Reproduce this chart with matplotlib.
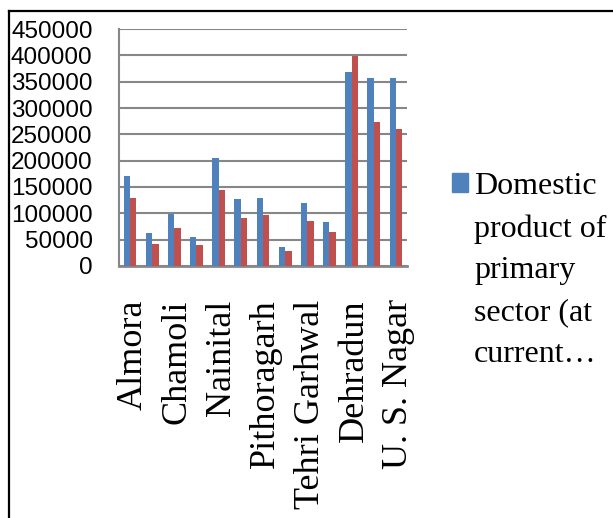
import numpy as np
import matplotlib.pyplot as plt
import matplotlib.transforms as mtransforms
from matplotlib.lines import Line2D
from matplotlib.patches import Rectangle

districts = [
    "Almora", "Bageshwar", "Chamoli", "Champawat", "Nainital",
    "Pauri Garhwal", "Pithoragarh", "Rudraprayag", "Tehri Garhwal",
    "Uttarkashi", "Dehradun", "Haridwar", "U. S. Nagar",
]
current_prices = [171000, 62000, 98000, 56000, 206000, 128000, 130000,
                  37000, 119000, 84000, 369000, 357000, 357000]
constant_prices = [130000, 42000, 72000, 39000, 145000, 92000, 96000,
                   28000, 85000, 64000, 399000, 274000, 261000]
yticks = np.arange(0, 450001, 50000)

blue = "#4F81BD"
red = "#C0504D"
grid_grey = "#878787"

fig = plt.figure(figsize=(6.13, 5.18), dpi=100)
ax = fig.add_axes([0.194, 0.4865, 0.470, 0.4575])

x = np.arange(len(districts))
w = 0.29
ax.bar(x - w / 2, current_prices, w, color=blue, zorder=3)
ax.bar(x + w / 2, constant_prices, w, color=red, zorder=3)

ax.set_xlim(-0.5, len(districts) - 0.5)
ax.set_ylim(0, 450000)
ax.set_yticks(yticks)
ax.set_yticklabels([str(v) for v in yticks],
                   family="Liberation Sans", fontsize=17.5)
ax.tick_params(axis="y", length=0, pad=19)
ax.yaxis.grid(True, color=grid_grey, linewidth=1.5, zorder=0)

# every other district name is shown under the axis
ax.set_xticks(x[::2])
ax.set_xticklabels(districts[::2], rotation=90, family="Liberation Serif",
                   fontsize=26, va="top", ha="center")
ax.tick_params(axis="x", length=0, pad=24)
nudge = mtransforms.ScaledTranslation(3 / 100, 0, fig.dpi_scale_trans)
for lbl in ax.get_xticklabels():
    lbl.set_transform(lbl.get_transform() + nudge)

for side in ("top", "right"):
    ax.spines[side].set_visible(False)
ax.spines["left"].set_color(grid_grey)
ax.spines["left"].set_linewidth(1.5)
ax.spines["bottom"].set_color(grid_grey)
ax.spines["bottom"].set_linewidth(2)

# legend: only the first series fits in the frame
fig.add_artist(Rectangle((452 / 613, 1 - 192 / 518), 16 / 613, 19 / 518,
                         transform=fig.transFigure, color=blue))
fig.text(474 / 613, 1 - 172 / 518,
         "Domestic\nproduct of\nprimary\nsector (at\ncurrent\u2026",
         family="Liberation Serif", fontsize=23, va="top", ha="left",
         linespacing=1.58)

# chart frame
fig.add_artist(Line2D([9 / 613, 1], [1 - 10.5 / 518] * 2,
                      transform=fig.transFigure, color="black", lw=1.6))
fig.add_artist(Line2D([9 / 613] * 2, [0, 1 - 10.5 / 518],
                      transform=fig.transFigure, color="black", lw=1.6))

fig.savefig("out.png", dpi=100)
